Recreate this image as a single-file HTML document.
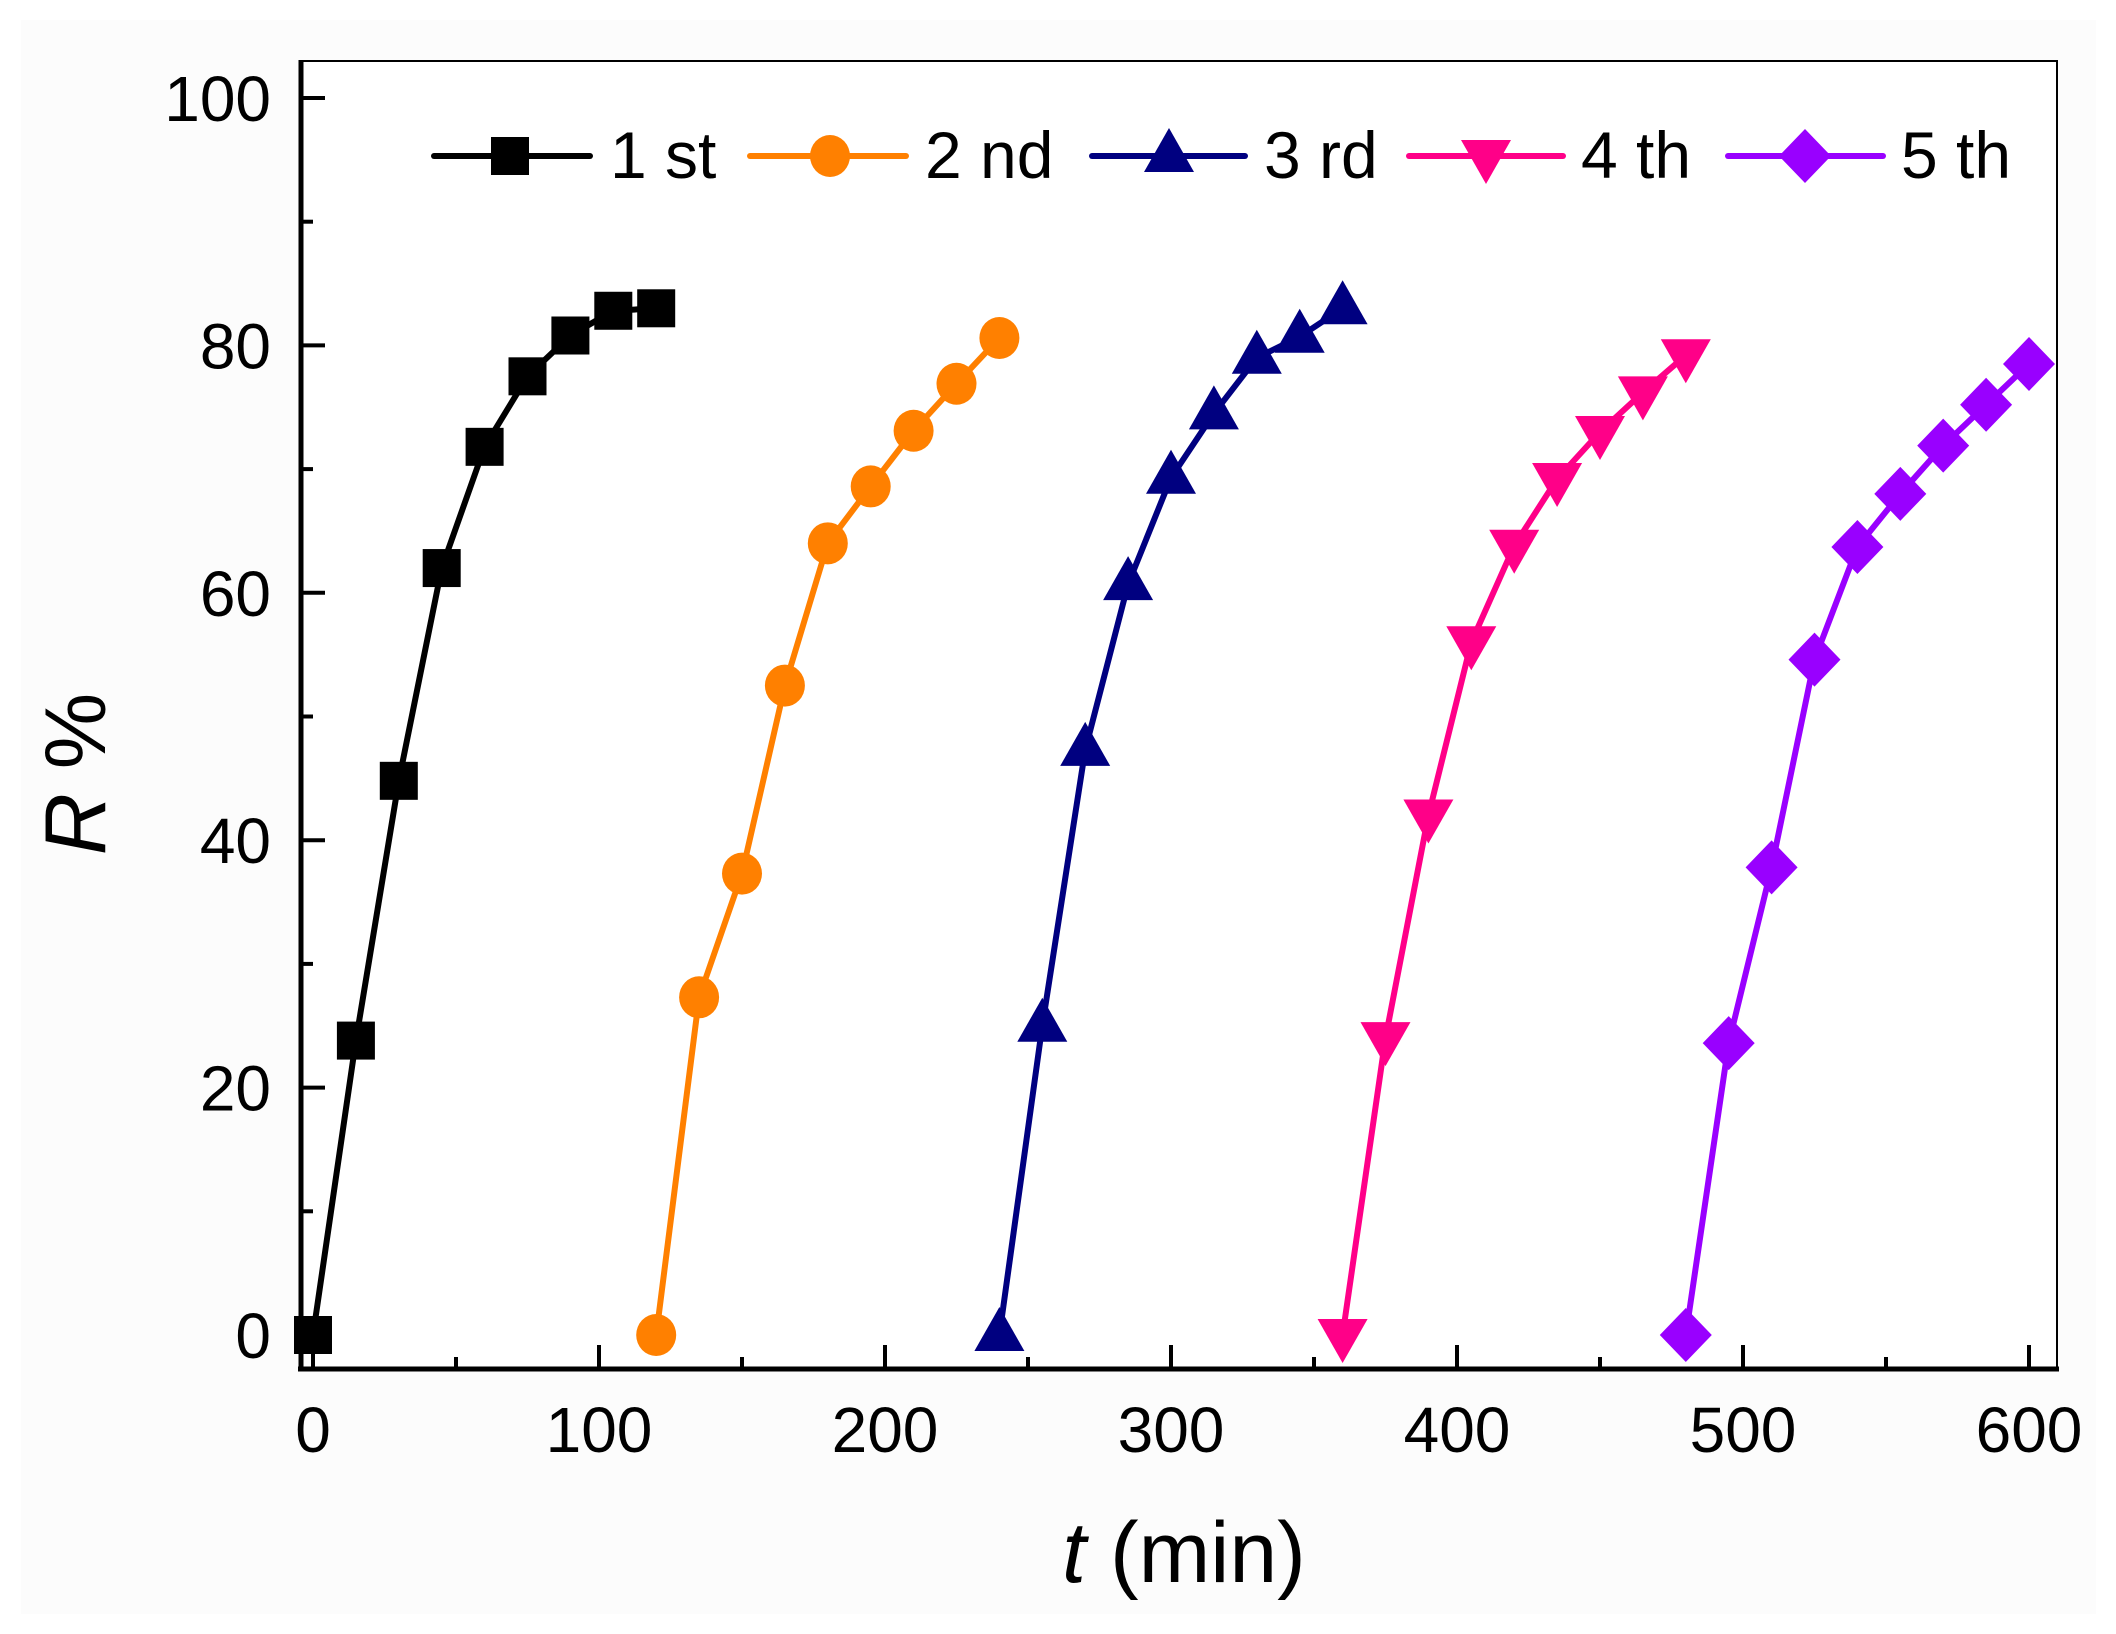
<!DOCTYPE html>
<html><head><meta charset="utf-8"><style>html,body{margin:0;padding:0;background:#fff}svg{display:block}</style></head><body>
<svg xmlns="http://www.w3.org/2000/svg" width="2116" height="1634" viewBox="0 0 2116 1634">
<rect x="0" y="0" width="2116" height="1634" fill="#ffffff"/>
<rect x="21" y="20" width="2075" height="1594" fill="#fcfcfc"/>
<g font-family="Liberation Sans, sans-serif" fill="#000">
<rect x="300" y="61" width="1757" height="1308" fill="#fff" stroke="#000" stroke-width="2"/>
<line x1="301" y1="60" x2="301" y2="1371" stroke="#000" stroke-width="5"/>
<line x1="298" y1="1369" x2="2059" y2="1369" stroke="#000" stroke-width="5"/>
<g id="ticks" stroke="#000" stroke-width="4"></g>
<g id="lbl" font-size="64"></g>
<text x="0" y="0" font-size="86" transform="translate(105,774) rotate(-90)" text-anchor="middle"><tspan font-style="italic">R</tspan> %</text>
<text x="1184" y="1582" font-size="86" text-anchor="middle"><tspan font-style="italic">t</tspan> (min)</text>
</g>
<g id="series"></g>
<g id="legend" font-family="Liberation Sans, sans-serif" font-size="66"></g>
<script>
var NS="http://www.w3.org/2000/svg";
function el(p,t,a,txt){var e=document.createElementNS(NS,t);for(var k in a)e.setAttribute(k,a[k]);if(txt!==undefined)e.textContent=txt;p.appendChild(e);return e;}
function X(t){return 313+2.86*t;}function Y(r){return 1335-12.37*r;}
var tk=document.getElementById('ticks'),lb=document.getElementById('lbl');
for(var v=0;v<=100;v+=10){var y=Y(v),L=(v%20==0)?24:12;el(tk,'line',{x1:301,y1:y,x2:301+L,y2:y});if(v%20==0)el(lb,'text',{x:271,y:y+23,'text-anchor':'end'},v);}
for(var t=0;t<=600;t+=50){var x=X(t),L=(t%100==0)?24:12;el(tk,'line',{x1:x,y1:1369,x2:x,y2:1369-L});if(t%100==0)el(lb,'text',{x:x,y:1452,'text-anchor':'middle'},t);}
var data=[
[0,[0,23.8,44.8,62,71.8,77.5,80.8,82.8,83],'#000000','sq'],
[120,[0,27.3,37.3,52.5,64,68.6,73.1,76.9,80.6],'#FF8000','ci'],
[240,[0,25,47.3,60.7,69.3,74.5,79,80.7,83],'#000080','tu'],
[360,[0,24,42,56,63.8,69.2,73,76.2,79.2],'#FF0088','td'],
[480,[0,23.6,37.8,54.6,63.7,68,71.9,75.2,78.5],'#9900FF','di']];
function marker(g,type,x,y,c){
 if(type=='sq')el(g,'rect',{x:x-19,y:y-19,width:38,height:38,fill:c});
 else if(type=='ci')el(g,'ellipse',{cx:x,cy:y,rx:20,ry:21,fill:c});
 else if(type=='tu')el(g,'polygon',{points:(x-25)+','+(y+16)+' '+(x+25)+','+(y+16)+' '+x+','+(y-28),fill:c});
 else if(type=='td')el(g,'polygon',{points:(x-25)+','+(y-16)+' '+(x+25)+','+(y-16)+' '+x+','+(y+28),fill:c});
 else el(g,'polygon',{points:x+','+(y-27)+' '+(x+26)+','+y+' '+x+','+(y+27)+' '+(x-26)+','+y,fill:c});
}
var sg=document.getElementById('series');
data.forEach(function(s){var pts=s[1].map(function(r,i){return X(s[0]+15*i)+','+Y(r);}).join(' ');
 el(sg,'polyline',{points:pts,fill:'none',stroke:s[2],'stroke-width':6,'stroke-linejoin':'round'});
 s[1].forEach(function(r,i){marker(sg,s[3],X(s[0]+15*i),Y(r),s[2]);});});
var lg=document.getElementById('legend');
var leg=[[434,590,510,610,'1 st'],[750,906,830,925,'2 nd'],[1092,1245,1169,1264,'3 rd'],[1409,1563,1486,1581,'4 th'],[1728,1883,1805,1901,'5 th']];
leg.forEach(function(l,i){var c=data[i][2];el(lg,'line',{x1:l[0],y1:156,x2:l[1],y2:156,stroke:c,'stroke-width':6,'stroke-linecap':'round'});marker(lg,data[i][3],l[2],156,c);el(lg,'text',{x:l[3],y:178},l[4]);});
</script>
</svg>
</body></html>
